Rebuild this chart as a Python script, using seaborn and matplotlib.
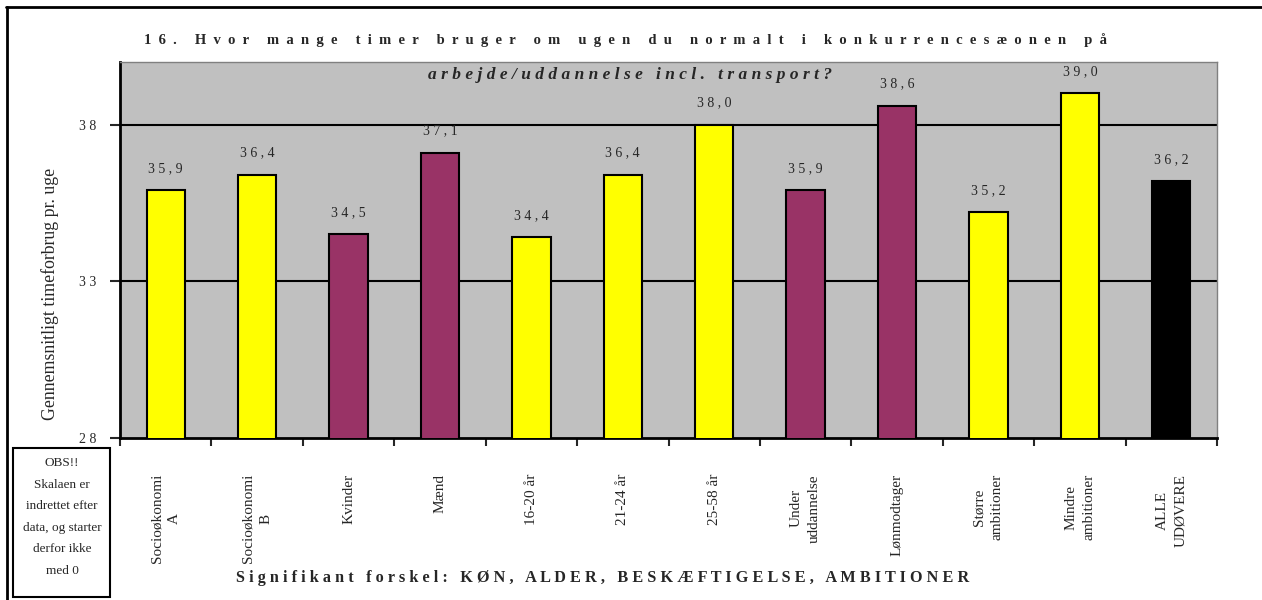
import matplotlib
matplotlib.use("Agg")
import matplotlib.pyplot as plt
from matplotlib.lines import Line2D
from matplotlib.patches import Rectangle
import seaborn as sns
import pandas as pd

# chart data
categories = ["Socioøkonomi\nA", "Socioøkonomi\nB", "Kvinder", "Mænd", "16-20 år",
              "21-24 år", "25-58 år", "Under\nuddannelse", "Lønmodtager",
              "Større\nambitioner", "Mindre\nambitioner", "ALLE\nUDØVERE"]
values = [35.9, 36.4, 34.5, 37.1, 34.4, 36.4, 38.0, 35.9, 38.6, 35.2, 39.0, 36.2]
bar_colors = ["#FFFF00", "#FFFF00", "#993366", "#993366", "#FFFF00", "#FFFF00",
              "#FFFF00", "#993366", "#993366", "#FFFF00", "#FFFF00", "#000000"]
y_ticks = [28, 33, 38]

title_1 = "16. Hvor mange timer bruger om ugen du normalt i konkurrencesæonen på"
title_2 = "arbejde/uddannelse incl. transport?"
y_label = "Gennemsnitligt timeforbrug pr. uge"
footer = "Signifikant forskel: KØN, ALDER, BESKÆFTIGELSE, AMBITIONER"
obs_note = "OBS!!\nSkalaen er\nindrettet efter\ndata, og starter\nderfor ikke\nmed 0"

SERIF = "Liberation Serif"


def spaced(text, gap=1, word_gap=3):
    # imitate the wide character spacing of the original
    return (" " * word_gap).join((" " * gap).join(word) for word in text.split(" "))


sns.set_style("white")
plt.rcParams["font.family"] = [SERIF, "DejaVu Serif"]

fig = plt.figure(figsize=(12.62, 6.0), dpi=100)
ax = fig.add_axes([120 / 1262, 1 - 438 / 600, 1097 / 1262, 376 / 600])
ax.set_facecolor("#C0C0C0")

df = pd.DataFrame({"group": categories, "hours": values})
sns.barplot(data=df, x="group", y="hours", hue="group", palette=bar_colors,
            legend=False, width=0.42, edgecolor="black", linewidth=1.5,
            saturation=1, ax=ax, zorder=3)

ax.set_ylim(28, 40)
ax.set_xlim(-0.5, len(categories) - 0.5)

# gridlines
for y in y_ticks[1:]:
    ax.axhline(y, color="black", lw=1.5, zorder=2)

# value labels
for cont, v in zip(ax.containers, values):
    ax.bar_label(cont, labels=[spaced(f"{v:.1f}".replace(".", ","))],
                 padding=11, fontsize=10, family=SERIF)

# y axis
ax.set_yticks(y_ticks)
ax.set_yticklabels([spaced(str(t)) for t in y_ticks], fontsize=10)
ax.tick_params(axis="y", direction="out", length=7, width=1.5, pad=10, left=True)

# x axis: labels at centres, tick marks at boundaries
ax.set_xticks(range(len(categories)))
ax.set_xticklabels(categories, rotation=90, fontsize=11, multialignment="center",
                   linespacing=1.5, va="top")
ax.tick_params(axis="x", which="major", length=0, pad=26)
ax.set_xticks([i - 0.5 for i in range(len(categories) + 1)], minor=True)
ax.tick_params(axis="x", which="minor", direction="out", length=6, width=1.5,
               bottom=True)
ax.set_xlabel("")
ax.set_ylabel("")

for side in ["left", "bottom"]:
    ax.spines[side].set_color("black")
    ax.spines[side].set_linewidth(2)
for side in ["top", "right"]:
    ax.spines[side].set_color("#808080")
    ax.spines[side].set_linewidth(1)

# titles and texts
fig.text(625 / 1262, 1 - 40 / 600, spaced(title_1, 2, 5), ha="center", va="center",
         fontsize=10.5, fontweight="bold")
fig.text(630 / 1262, 1 - 75 / 600, spaced(title_2), ha="center", va="center",
         fontsize=12.5, fontweight="bold", style="italic")
fig.text(50 / 1262, 1 - 294 / 600, y_label, rotation=90, ha="center", va="center",
         fontsize=12.8)
fig.text(603 / 1262, 1 - 578 / 600, spaced(footer), ha="center", va="center",
         fontsize=11.7, fontweight="bold")

# OBS note box
fig.add_artist(Rectangle((13 / 1262, 1 - 597 / 600), 97 / 1262, 149 / 600,
                         transform=fig.transFigure, fill=False, lw=1.5,
                         edgecolor="black"))
fig.text(62 / 1262, 1 - 517 / 600, obs_note, ha="center", va="center",
         fontsize=9.5, linespacing=2.05)

# outer frame (top and left)
fig.add_artist(Line2D([6 / 1262, 1], [1 - 7 / 600, 1 - 7 / 600], color="black", lw=2))
fig.add_artist(Line2D([7 / 1262, 7 / 1262], [0, 1 - 7 / 600], color="black", lw=2))

fig.savefig("out.png", dpi=100)
